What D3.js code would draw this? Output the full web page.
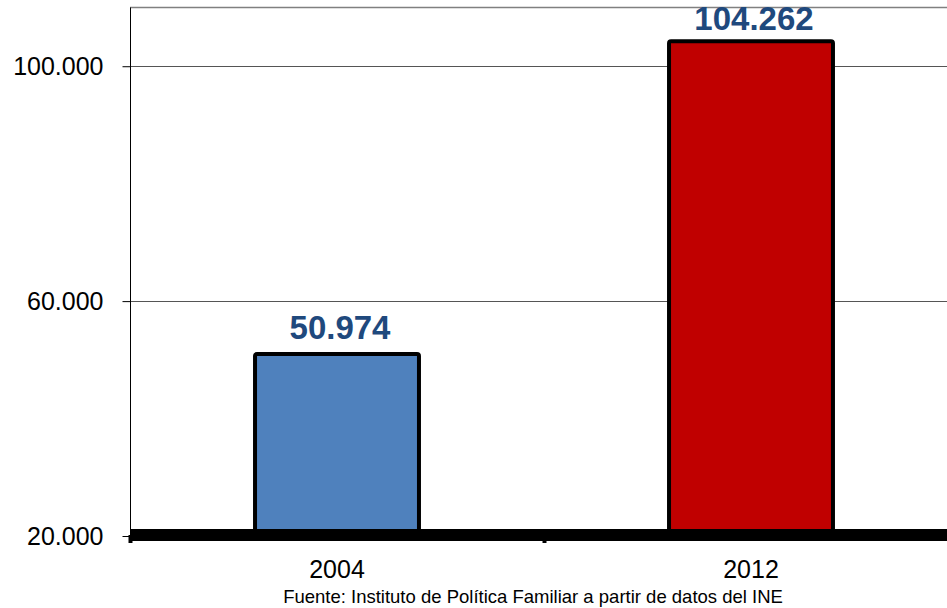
<!DOCTYPE html>
<html><head><meta charset="utf-8">
<script src="https://cdn.jsdelivr.net/npm/d3@7"></script>
<style>body{margin:0;background:#fff}svg{display:block}text{font-family:Arial,"Liberation Sans",sans-serif}</style>
</head><body><svg id="c" width="947" height="608"></svg>
<script>
const categories = ["2004", "2012"];
const values = [50974, 104262];
const barColors = ["#4F81BD", "#C00000"];
const yTicks = [20000, 60000, 100000];
const gridTicks = [60000, 100000];
const sourceText = "Fuente: Instituto de Política Familiar a partir de datos del INE";

const svg = d3.select("#c");
const es = d3.formatLocale({decimal: ",", thousands: ".", grouping: [3], currency: ["", ""]});
const fmt = es.format(",.0f");

const x = d3.scaleBand().domain(categories).range([130, 958]).padding(0);
const y = d3.scaleLinear().domain([20000, 110000]).range([536, 7.5]);
const barW = x.bandwidth() * 0.396;

// gridlines
svg.append("g").selectAll("line").data(gridTicks).join("line")
  .attr("x1", 130).attr("x2", 947)
  .attr("y1", d => Math.round(y(d)) + 0.5).attr("y2", d => Math.round(y(d)) + 0.5)
  .attr("stroke", "#555").attr("stroke-width", 1);

// top border
svg.append("line").attr("x1", 130).attr("x2", 947).attr("y1", 7.5).attr("y2", 7.5)
  .attr("stroke", "#808080").attr("stroke-width", 1.5);

// y axis
const yAxis = d3.axisLeft(y).tickValues(yTicks).tickFormat(fmt).tickSize(8).tickPadding(19);
const gy = svg.append("g").attr("transform", "translate(130.5,0)").call(yAxis);
gy.select(".domain").remove();
gy.append("line").attr("x1", 0).attr("x2", 0).attr("y1", 7.5).attr("y2", 536).attr("stroke", "#000");
gy.selectAll(".tick line").attr("stroke", "#000");
gy.selectAll(".tick text").attr("font-size", 25).attr("fill", "#000")
  .attr("font-family", "Arial, 'Liberation Sans', sans-serif");

// bars
svg.append("g").selectAll("rect").data(values).join("rect")
  .attr("x", (d, i) => x(categories[i]) + x.bandwidth() / 2 - barW / 2)
  .attr("width", barW)
  .attr("y", d => y(d))
  .attr("height", d => y(20000) - y(d))
  .attr("rx", 2)
  .attr("fill", (d, i) => barColors[i])
  .attr("stroke", "#000").attr("stroke-width", 4);

// x axis (thick baseline)
const xAxis = d3.axisBottom(d3.scaleLinear().domain([0, 2]).range([130, 958])).tickValues([0, 1]).tickSize(8).tickFormat("");
const gx = svg.append("g").attr("transform", "translate(0,535)").call(xAxis);
gx.select(".domain").remove();
gx.selectAll(".tick line").attr("stroke", "#000").attr("stroke-width", 4);
svg.append("line").attr("x1", 130).attr("x2", 947).attr("y1", 535).attr("y2", 535)
  .attr("stroke", "#000").attr("stroke-width", 12);

// category labels
svg.append("g").selectAll("text").data(categories).join("text")
  .attr("x", d => x(d) + x.bandwidth() / 2)
  .attr("y", 578)
  .attr("text-anchor", "middle").attr("font-size", 25).attr("fill", "#000")
  .text(d => d);

// value labels
svg.append("g").selectAll("text").data(values).join("text")
  .attr("x", (d, i) => x(categories[i]) + x.bandwidth() / 2 + 3)
  .attr("y", d => Math.max(y(d) - 15, 30))
  .attr("text-anchor", "middle").attr("font-size", 33).attr("font-weight", "bold").attr("fill", "#1F497D")
  .text(d => fmt(d));

// source
svg.append("text").attr("x", 533).attr("y", 603).attr("text-anchor", "middle")
  .attr("font-size", 18.5).attr("fill", "#000").text(sourceText);
</script></body></html>
